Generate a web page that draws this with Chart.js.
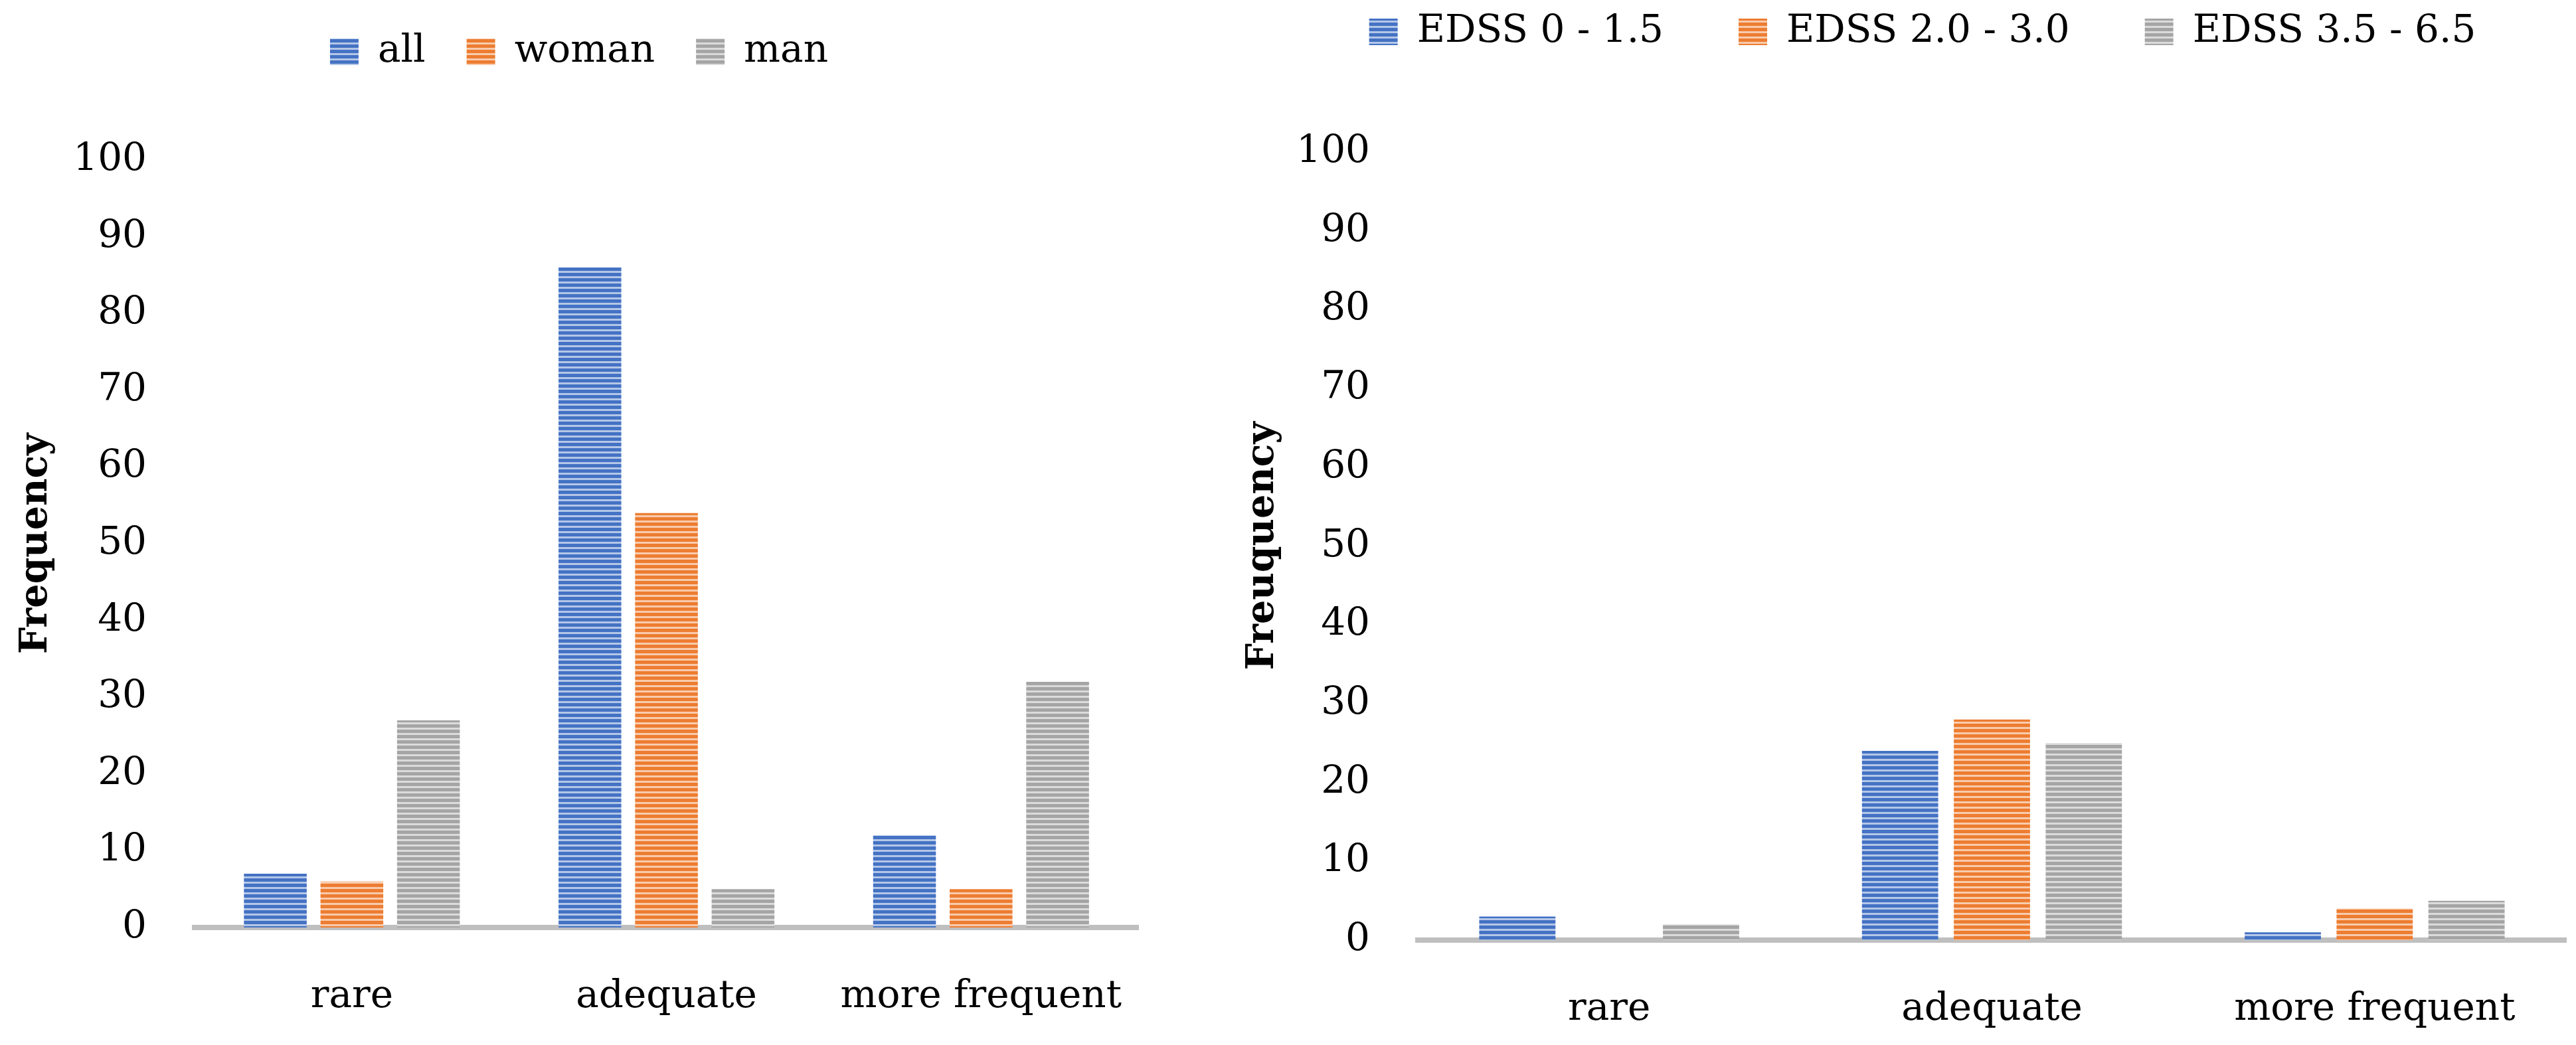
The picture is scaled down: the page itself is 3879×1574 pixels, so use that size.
<!DOCTYPE html>
<html>
<head>
<meta charset="utf-8">
<script src="https://cdn.jsdelivr.net/npm/chart.js@4.4.1/dist/chart.umd.min.js"></script>
<style>
    html, body { margin: 0; padding: 0; background: #fff; overflow: hidden; }
    body { width: 3879px; height: 1574px; position: relative; }
    canvas { position: absolute; }
    #sexChart { left: 0px; top: -13px; }
    #edssChart { left: 1750px; top: -94px; }
</style>
</head>
<body>
<canvas id="sexChart" width="1762" height="1587"></canvas>
<canvas id="edssChart" width="2290" height="1668"></canvas>
<script>
// Data
const categories = ['rare', 'adequate', 'more frequent'];
const yMax = 100;
const yStep = 10;

const sexLabels = ['all', 'woman', 'man'];
const allValues = [7, 86, 12];
const womanValues = [6, 54, 5];
const manValues = [27, 5, 32];

const edssLabels = ['EDSS 0 - 1.5', 'EDSS 2.0 - 3.0', 'EDSS 3.5 - 6.5'];
const edssLowValues = [3, 24, 1];
const edssMidValues = [0, 28, 4];
const edssHighValues = [2, 25, 5];

const FONT = 'DejaVu Serif';

// Excel-like narrow horizontal stripe fill
function stripes(dark, light) {
    const c = document.createElement('canvas');
    c.width = 8;
    c.height = 8;
    const g = c.getContext('2d');
    g.fillStyle = light;
    g.fillRect(0, 0, 8, 8);
    g.fillStyle = dark;
    g.fillRect(0, 0, 8, 5);
    return g.createPattern(c, 'repeat');
}

const blueFill = stripes('#4472C4', '#B4C7E7');
const orangeFill = stripes('#ED7D31', '#F8CBAD');
const greyFill = stripes('#A5A5A5', '#DBDBDB');

// lets the legend box take a fixed height so the plot top lands where we want
const legendHeight = {
    id: 'legendHeight',
    beforeInit(chart) {
        const fit = chart.legend.fit;
        chart.legend.fit = function () {
            fit.call(this);
            this.height = chart.options.plugins.legendHeight.height;
        };
    }
};

function makeChart(id, labels, series, cfg) {
    const fills = [blueFill, orangeFill, greyFill];
    new Chart(document.getElementById(id).getContext('2d'), {
        type: 'bar',
        data: {
            labels: categories,
            datasets: series.map((values, i) => ({
                label: labels[i],
                data: values,
                backgroundColor: fills[i],
                borderWidth: 0,
                categoryPercentage: cfg.catPct,
                barPercentage: cfg.barPct,
            }))
        },
        plugins: [legendHeight],
        options: {
            responsive: false,
            animation: false,
            devicePixelRatio: 1,
            layout: { padding: { left: cfg.padLeft, right: cfg.padRight, top: 0, bottom: 0 } },
            plugins: {
                legendHeight: { height: cfg.legendHeight },
                tooltip: { enabled: false },
                legend: {
                    position: 'top',
                    labels: {
                        color: '#000',
                        font: { family: FONT, size: 58 },
                        boxWidth: 43,
                        boxHeight: 40,
                        padding: cfg.legendPad,
                    }
                }
            },
            scales: {
                x: {
                    grid: { display: false, drawTicks: false },
                    border: { display: true, color: '#BFBFBF', width: 8 },
                    ticks: {
                        color: '#000',
                        font: { family: FONT, size: 58 },
                        padding: cfg.xPad,
                        maxRotation: 0,
                    },
                    afterFit(scale) { scale.height = cfg.xHeight; }
                },
                y: {
                    min: 0,
                    max: yMax,
                    grid: { display: false, drawTicks: false },
                    border: { display: false },
                    ticks: {
                        stepSize: yStep,
                        color: '#000',
                        font: { family: FONT, size: 58 },
                        padding: 72,
                    },
                    title: {
                        display: true,
                        text: cfg.yTitle,
                        color: '#000',
                        font: { family: FONT, size: 57, weight: 'bold' },
                        padding: { top: cfg.titlePad, bottom: 0 },
                    },
                    afterFit(scale) { scale.width = cfg.yWidth; }
                }
            }
        }
    });
}

makeChart('sexChart', sexLabels, [allValues, womanValues, manValues], {
    catPct: 0.73, barPct: 0.82, padLeft: 0, padRight: 18,
    legendHeight: 254, legendPad: 62,
    xHeight: 177, xPad: 70,
    yTitle: 'Frequency', titlePad: 21, yWidth: 293,
});

makeChart('edssChart', edssLabels, [edssLowValues, edssMidValues, edssHighValues], {
    catPct: 0.72, barPct: 0.83, padLeft: 176, padRight: 176,
    legendHeight: 323, legendPad: 113,
    xHeight: 158, xPad: 70,
    yTitle: 'Freuquency', titlePad: -58, yWidth: 209,
});
</script>
</body>
</html>
